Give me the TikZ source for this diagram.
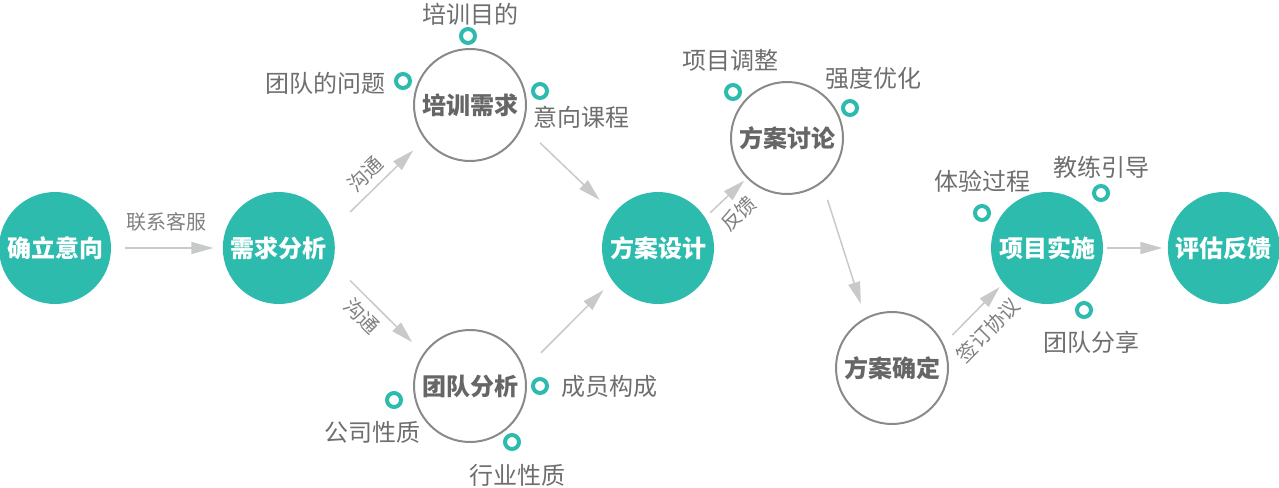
\documentclass[tikz,border=0pt]{standalone}
\usepackage{fontspec}
\setmainfont{Noto Sans CJK SC}
\usepackage{tikz}
\usetikzlibrary{arrows.meta, positioning}
\definecolor{teal1}{HTML}{2CBBAD}
\definecolor{linegray}{HTML}{C8C9C9}
\definecolor{textgray}{HTML}{6E6E6E}
\definecolor{rimgray}{HTML}{8A8A8A}
\tikzstyle{stage} = [circle, fill=teal1, minimum size=56pt, inner sep=0pt,
  text=white, font=\fontsize{12}{14}\selectfont\bfseries]
\tikzstyle{phase} = [circle, draw=rimgray, line width=1pt, fill=white, minimum size=56pt,
  inner sep=0pt, text=black!60, font=\fontsize{12}{14}\selectfont\bfseries]
\tikzstyle{ring} = [circle, draw=teal1, line width=2pt, minimum size=7pt, inner sep=0pt]
\tikzstyle{note} = [text=textgray, font=\fontsize{12}{14}\selectfont, inner sep=0pt]
\tikzstyle{tag} = [text=black!50, font=\fontsize{10}{12}\selectfont, inner sep=0pt, sloped]
\tikzstyle{arrow} = [draw=linegray, line width=0.75pt, -{Triangle[length=11pt, width=6pt]}]

\begin{document}
\begin{tikzpicture}[x=0.5pt, y=-0.5pt]
    \useasboundingbox (0,0) rectangle (1279,487);
    % main stages
    \node[stage] (yixiang) at (55,248) {确立意向};
    \node[stage, right=55.5pt of yixiang] (xuqiu) {需求分析};
    \node[phase] (peixun) at (470,105) {培训需求};
    \node[phase] (tuandui) at (470,386) {团队分析};
    \node[stage] (sheji) at (658,248) {方案设计};
    \node[phase] (taolun) at (787,138) {方案讨论};
    \node[phase] (queding) at (892,368) {方案确定};
    \node[stage] (shishi) at (1047,248) {项目实施};
    \node[stage, right=32pt of shishi] (pinggu) {评估反馈};

    % rings and notes
    \node[ring] (rmudi) at (468,36) {};
    \node[note] (mudi) at (470,14) {培训目的};
    \node[ring] (rwenti) at (403,81) {};
    \node[note] (wenti) at (325,83) {团队的问题};
    \node[ring] (rkecheng) at (540,91) {};
    \node[note] (kecheng) at (581,117) {意向课程};
    \node[ring] (rgoucheng) at (540,386) {};
    \node[note] (goucheng) at (609,386) {成员构成};
    \node[ring] (rgongsi) at (394,400) {};
    \node[note] (gongsi) at (372,432) {公司性质};
    \node[ring] (rhangye) at (512,442) {};
    \node[note] (hangye) at (517,475) {行业性质};
    \node[ring] (rtiaozheng) at (733,92) {};
    \node[note] (tiaozheng) at (730,60) {项目调整};
    \node[ring] (ryouhua) at (850,108) {};
    \node[note] (youhua) at (873,78) {强度优化};
    \node[ring] (rtiyan) at (982,213) {};
    \node[note] (tiyan) at (982,181) {体验过程};
    \node[ring] (ryindao) at (1101,193) {};
    \node[note] (yindao) at (1101,167) {教练引导};
    \node[ring] (rfenxiang) at (1084,310) {};
    \node[note] (fenxiang) at (1091,342) {团队分享};

    % connectors
    \draw[arrow, shorten <=7pt, shorten >=4.5pt] (yixiang) -- node[tag, above=8pt] {联系客服} (xuqiu);
    \draw[arrow, shorten <=12.6pt, shorten >=7.85pt] (xuqiu.19) -- node[tag, above=3.5pt, pos=0.485] {沟通} (peixun.217);
    \draw[arrow, shorten <=12pt, shorten >=7.8pt] (xuqiu.-16) -- node[tag, below=3.5pt, pos=0.45] {沟通} (tuandui.145);
    \draw[arrow, shorten <=11.9pt, shorten >=9.7pt] (peixun.-22) -- (sheji.142);
    \draw[arrow, shorten <=11.65pt, shorten >=6.3pt] (tuandui.17) -- (sheji.216);
    \draw[arrow, shorten <=3.4pt, shorten >=1.7pt] (sheji.33) -- node[tag, below=5pt, pos=0.47] {反馈} (taolun.225);
    \draw[arrow, shorten <=8.9pt, shorten >=7.2pt] (taolun.-52) -- (queding.118);
    \draw[arrow, shorten <=6.2pt, shorten >=2.5pt] (queding.25) -- node[tag, below=6pt, pos=0.48] {签订协议} (shishi.219);
    \draw[arrow, shorten <=2pt, shorten >=2.5pt] (shishi) -- (pinggu);
\end{tikzpicture}
\end{document}
